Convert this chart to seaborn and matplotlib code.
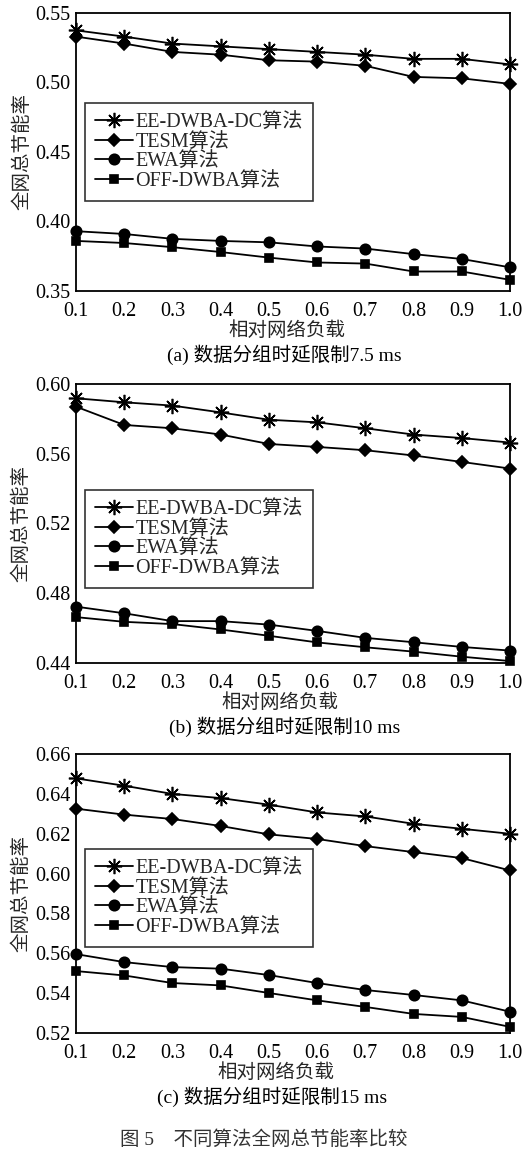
import matplotlib
matplotlib.use("Agg")
import matplotlib.pyplot as plt
import seaborn as sns
import numpy as np
import pandas as pd

sns.set_theme(style="white")
plt.rcParams['font.family'] = ['Liberation Serif', 'Noto Sans CJK SC']
plt.rcParams['axes.unicode_minus'] = False

load = [0.1, 0.2, 0.3, 0.4, 0.5, 0.6, 0.7, 0.8, 0.9, 1.0]
algorithms = ["EE-DWBA-DC算法", "TESM算法", "EWA算法", "OFF-DWBA算法"]

# (a) delay bound 7.5 ms
ee_a = [0.5375, 0.533, 0.528, 0.526, 0.524, 0.522, 0.520, 0.517, 0.517, 0.513]
tesm_a = [0.533, 0.528, 0.522, 0.520, 0.516, 0.515, 0.512, 0.504, 0.503, 0.499]
ewa_a = [0.393, 0.391, 0.3875, 0.386, 0.385, 0.382, 0.3805, 0.3765, 0.373, 0.367]
off_a = [0.386, 0.3845, 0.3815, 0.378, 0.374, 0.3705, 0.3697, 0.364, 0.364, 0.358]

# (b) delay bound 10 ms
ee_b = [0.5918, 0.5895, 0.5876, 0.5837, 0.5795, 0.578, 0.5746, 0.571, 0.569, 0.5664]
tesm_b = [0.587, 0.5765, 0.5746, 0.571, 0.5656, 0.5639, 0.562, 0.559, 0.5553, 0.5515]
ewa_b = [0.4723, 0.4685, 0.464, 0.464, 0.462, 0.4584, 0.4544, 0.4519, 0.4492, 0.4471]
off_b = [0.4663, 0.4636, 0.4623, 0.4592, 0.4556, 0.4518, 0.449, 0.4465, 0.4436, 0.4411]

# (c) delay bound 15 ms
ee_c = [0.6478, 0.6441, 0.640, 0.6379, 0.6346, 0.6307, 0.6287, 0.625, 0.6225, 0.620]
tesm_c = [0.6326, 0.6296, 0.6274, 0.6239, 0.6197, 0.6174, 0.6138, 0.6108, 0.6078, 0.6016]
ewa_c = [0.5596, 0.5556, 0.5531, 0.5523, 0.5491, 0.5451, 0.5416, 0.5391, 0.5364, 0.5307]
off_c = [0.5511, 0.5489, 0.5451, 0.5439, 0.5401, 0.5364, 0.5331, 0.5296, 0.5281, 0.5231]

xlabel = "相对网络负载"
ylabel = "全网总节能率"
subtitles = ["(a) 数据分组时延限制7.5 ms", "(b) 数据分组时延限制10 ms", "(c) 数据分组时延限制15 ms"]
caption = "图 5    不同算法全网总节能率比较"

panels = [
    ([ee_a, tesm_a, ewa_a, off_a], (0.35, 0.55), [0.35, 0.40, 0.45, 0.50, 0.55]),
    ([ee_b, tesm_b, ewa_b, off_b], (0.44, 0.60), [0.44, 0.48, 0.52, 0.56, 0.60]),
    ([ee_c, tesm_c, ewa_c, off_c], (0.52, 0.66), [0.52, 0.54, 0.56, 0.58, 0.60, 0.62, 0.64, 0.66]),
]

markers = [(8, 2, 0), "D", "o", "s"]
msizes = [11, 6, 7.5, 6]

# axes boxes in figure fractions: left, bottom, width, height
boxes = [
    [0.1453, 0.7470, 0.8298, 0.2417],
    [0.1453, 0.4235, 0.8298, 0.2426],
    [0.1453, 0.1017, 0.8298, 0.2426],
]
legend_tops = [0.676, 0.620, 0.659]
xlabel_x = [0.486, 0.470, 0.461]
subtitle_x = [0.479, 0.481, 0.452]

fig = plt.figure(figsize=(5.23, 11.5), dpi=100)

for i, (series, ylim, yticks) in enumerate(panels):
    ax = fig.add_axes(boxes[i])
    for name, vals, mk, ms in zip(algorithms, series, markers, msizes):
        df = pd.DataFrame({"load": load, "rate": vals})
        sns.lineplot(data=df, x="load", y="rate", ax=ax, color="black",
                     linewidth=1.3, marker=mk, markersize=ms,
                     markeredgecolor="black", markerfacecolor="black",
                     markeredgewidth=1.2, label=name, clip_on=False)
    ax.set_xlim(0.1, 1.0)
    ax.set_ylim(*ylim)
    ax.set_xticks(load)
    ax.set_xticklabels([f"{v:.1f}" for v in load])
    ax.set_yticks(yticks)
    ax.set_yticklabels([f"{v:.2f}" for v in yticks])
    ax.tick_params(axis="both", direction="in", length=4, width=1.1,
                   labelsize=14.5, colors="black")
    ax.tick_params(axis="x", pad=8)
    ax.tick_params(axis="y", pad=4)
    for sp in ax.spines.values():
        sp.set_color("black")
        sp.set_linewidth(1.3)
    ax.set_xlabel(xlabel, fontsize=14)
    ax.xaxis.set_label_coords(xlabel_x[i], -0.108)
    ax.set_ylabel(ylabel, fontsize=14, labelpad=3)
    ax.grid(False)
    leg = ax.legend(loc="upper left", bbox_to_anchor=(0.021, legend_tops[i]),
                    borderaxespad=0, frameon=True, fancybox=False,
                    fontsize=14.5, handlelength=1.9, handletextpad=0.1,
                    labelspacing=0.02, borderpad=0.5, edgecolor="black")
    leg.get_frame().set_linewidth(1.2)
    # subtitle below the x-axis label
    ax.text(subtitle_x[i], -0.23, subtitles[i], transform=ax.transAxes,
            ha="center", va="center", fontsize=14, color="black")

fig.text(0.505, 1 - 1140 / 1150, caption, ha="center", va="center",
         fontsize=14, color="#333333")

fig.savefig("out.png", dpi=100, facecolor="white")
